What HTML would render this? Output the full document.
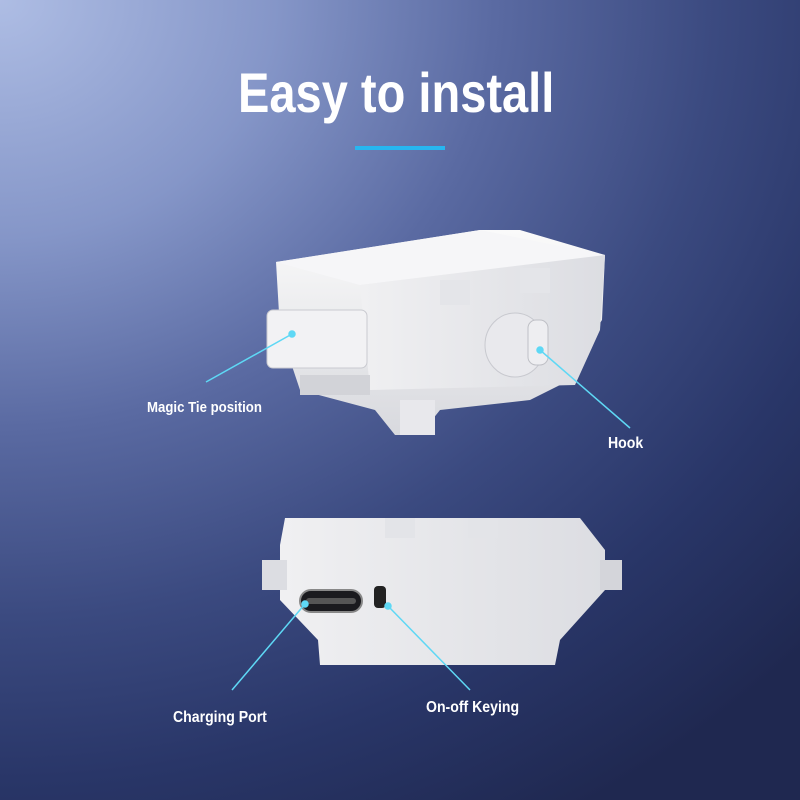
<!DOCTYPE html>
<html><head><meta charset="utf-8"><style>
html,body{margin:0;padding:0}
body{width:800px;height:800px;overflow:hidden;position:relative;font-family:"Liberation Sans",sans-serif;
background:radial-gradient(ellipse 1100px 950px at 0px 0px,#aebde4 0%,#8596c8 25%,#5a6aa2 45%,#3b4a80 65%,#293668 82%,#1f2850 100%);}
.t{position:absolute;color:#fff;font-weight:bold;transform-origin:0 0}
</style></head><body>
<div class="t" style="left:238px;top:60px;font-size:56px;transform:scaleX(0.84);white-space:nowrap">Easy to install</div>
<div style="position:absolute;left:355px;top:146px;width:90px;height:4px;background:#27b6f0"></div>
<svg width="800" height="800" style="position:absolute;left:0;top:0">
<defs>
<linearGradient id="g1" x1="0" y1="0" x2="0" y2="1"><stop offset="0" stop-color="#fafafa"/><stop offset="1" stop-color="#d8d9de"/></linearGradient>
<linearGradient id="g2" x1="0" y1="0" x2="1" y2="0"><stop offset="0" stop-color="#f0f0f2"/><stop offset="1" stop-color="#dcdde2"/></linearGradient>
</defs>
<polygon points="276,262 480,230 520,230 605,255 602,320 560,385 530,400 440,410 420,435 395,435 375,410 300,390 280,330" fill="url(#g1)"/>
<polygon points="276,262 480,230 605,255 360,285" fill="#f6f6f8"/>
<polygon points="360,285 605,255 600,330 575,385 370,390" fill="url(#g2)"/>
<rect x="267" y="310" width="100" height="58" rx="6" fill="#f2f2f4" stroke="#c9cad0"/>
<rect x="300" y="375" width="70" height="20" fill="#d2d3d8"/>
<rect x="400" y="400" width="35" height="35" fill="#e8e8ec"/>
<ellipse cx="515" cy="345" rx="30" ry="32" fill="#e9e9ed" stroke="#c8c9cf"/>
<rect x="528" y="320" width="20" height="45" rx="8" fill="#eeeef1" stroke="#bfc0c6"/>
<rect x="440" y="280" width="30" height="25" fill="#e4e5e9"/>
<rect x="520" y="268" width="30" height="25" fill="#e4e5e9"/>
<polygon points="285,518 580,518 605,550 605,590 560,640 555,665 320,665 318,640 280,600 280,545" fill="url(#g2)"/>
<rect x="262" y="560" width="25" height="30" fill="#dcdde2"/>
<rect x="600" y="560" width="22" height="30" fill="#d4d5da"/>
<rect x="385" y="518" width="30" height="20" fill="#e3e4e8"/>
<rect x="468" y="518" width="30" height="20" fill="#e3e4e8"/>
<rect x="300" y="590" width="62" height="22" rx="11" fill="#1a1a1e" stroke="#888" stroke-width="2"/>
<rect x="306" y="598" width="50" height="6" rx="3" fill="#555"/>
<rect x="374" y="586" width="12" height="22" rx="4" fill="#222"/>
<g stroke="#5ed8f5" stroke-width="1.5" fill="#5ed8f5">
<line x1="206" y1="382" x2="292" y2="334"/><circle cx="292" cy="334" r="3"/>
<line x1="630" y1="428" x2="540" y2="350"/><circle cx="540" cy="350" r="3"/>
<line x1="232" y1="690" x2="305" y2="604"/><circle cx="305" cy="604" r="3"/>
<line x1="470" y1="690" x2="388" y2="606"/><circle cx="388" cy="606" r="3"/>
</g>
</svg>
<div class="t" style="left:147px;top:399px;font-size:15px;transform:scaleX(0.88);white-space:nowrap">Magic Tie position</div>
<div class="t" style="left:608px;top:435px;font-size:16px;transform:scaleX(0.88)">Hook</div>
<div class="t" style="left:173px;top:709px;font-size:16px;transform:scaleX(0.88);white-space:nowrap">Charging Port</div>
<div class="t" style="left:426px;top:699px;font-size:16px;transform:scaleX(0.88);white-space:nowrap">On-off Keying</div>
</body></html>
